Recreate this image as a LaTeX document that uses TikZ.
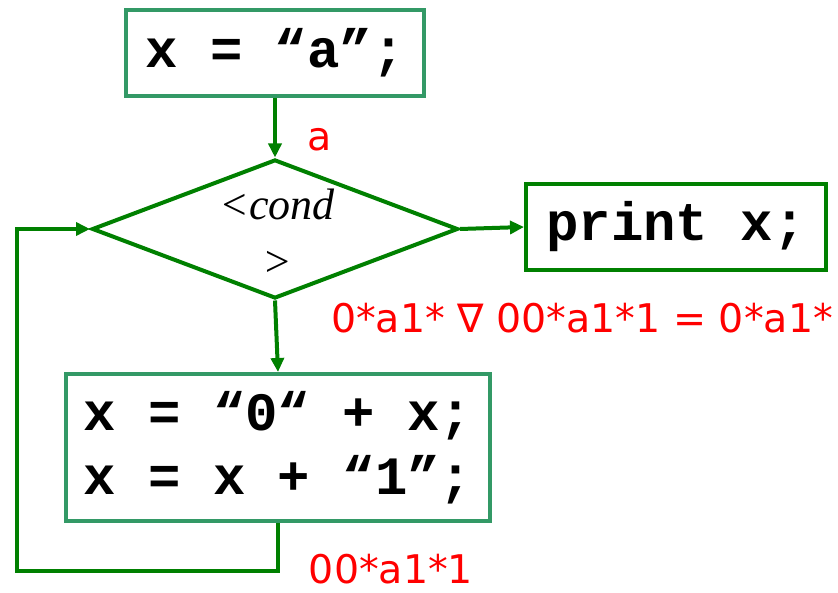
\documentclass[tikz,border=0pt]{standalone}
\usepackage{fontspec}
\setmainfont{Liberation Serif}
\newfontfamily\codefont{Liberation Mono}
\newfontfamily\labelfont{DejaVu Sans}
\usetikzlibrary{shapes.geometric,arrows.meta}
\definecolor{boxgreen}{RGB}{51,153,102}
\definecolor{flowgreen}{RGB}{0,128,0}
\tikzset{
  codebox/.style={draw=boxgreen, line width=4pt, fill=white, inner sep=0pt,
    align=left, font=\codefont\bfseries\fontsize{54}{64}\selectfont},
  flow/.style={draw=flowgreen, line width=4pt,
    -{Triangle[length=14pt,width=13pt]}},
  note/.style={text=red, inner sep=0pt,
    font=\labelfont\fontsize{39.5}{44}\selectfont},
}
\begin{document}
\begin{tikzpicture}[x=1pt,y=-1pt]
\useasboundingbox (0,0) rectangle (838,593);

% statements
\node[codebox, minimum width=298pt, minimum height=86pt] (init) at (275,53) {x = “a”;};
\node[codebox, draw=flowgreen, minimum width=300pt, minimum height=86pt] (print) at (676,227) {print x;};
\node[codebox, minimum width=424pt, minimum height=147pt] (body) at (278,447.5)
  {x = “0“ + x;\\x = x + “1”;};

% branch
\node[diamond, draw=flowgreen, line width=4pt, inner sep=0pt,
  minimum width=366pt, minimum height=139pt] (cond) at (275,229) {};
\node[align=center, inner sep=0pt, font=\itshape\fontsize{44}{57}\selectfont]
  (condtext) at (277,233) {<cond\\>};

% control flow
\draw[flow] (init.south) -- (cond.north);
\draw[flow] (cond.east) -- (print.west);
\draw[flow] (cond.south) -- (body.north);
\coordinate (loopcorner) at (17,571);
\draw[flow] (body.south) |- (loopcorner) |- (cond.west);

% dataflow facts
\node[note] (fa) at (320,140) {a};
\node[note] (fmeet) at (582,318) {0*a1* ∇ 00*a1*1 = 0*a1*};
\node[note] (floop) at (391,569) {00*a1*1};
\end{tikzpicture}
\end{document}
